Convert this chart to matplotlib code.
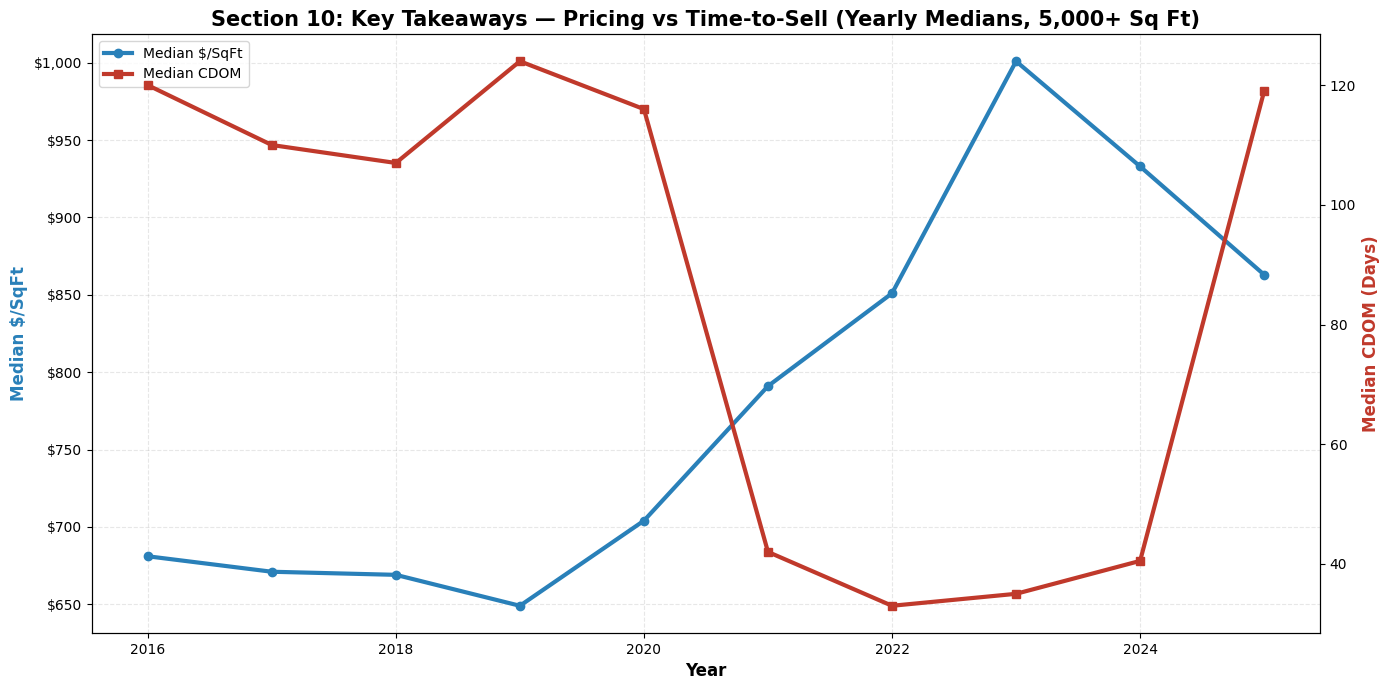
import matplotlib
matplotlib.use("Agg")
import matplotlib.pyplot as plt
from matplotlib.ticker import FuncFormatter

years = [2016, 2017, 2018, 2019, 2020, 2021, 2022, 2023, 2024, 2025]
price_sqft = [681, 671, 669, 649, 704, 791, 851, 1001, 933, 863]
cdom_days = [120, 110, 107, 124, 116, 42, 33, 35, 40.5, 119]

blue = "#2980b9"
red = "#c0392b"

fig, ax1 = plt.subplots(figsize=(13.89, 6.9), dpi=100)
l1, = ax1.plot(years, price_sqft, color=blue, linewidth=3, marker="o", markersize=6, label="Median $/SqFt")
ax1.set_xlabel("Year", fontsize=12, fontweight="bold")
ax1.set_ylabel("Median $/SqFt", fontsize=12, fontweight="bold", color=blue)
ax1.yaxis.set_major_formatter(FuncFormatter(lambda v, p: f"${v:,.0f}"))
ax1.grid(True, linestyle="--", alpha=0.3)

ax2 = ax1.twinx()
l2, = ax2.plot(years, cdom_days, color=red, linewidth=3, marker="s", markersize=6, label="Median CDOM")
ax2.set_ylabel("Median CDOM (Days)", fontsize=12, fontweight="bold", color=red)

ax1.legend(handles=[l1, l2], loc="upper left")
ax1.set_title("Section 10: Key Takeaways — Pricing vs Time-to-Sell (Yearly Medians, 5,000+ Sq Ft)",
              fontsize=15, fontweight="bold")
fig.subplots_adjust(left=0.0662, right=0.9503, top=0.9507, bottom=0.0826)
fig.savefig("out.png")
